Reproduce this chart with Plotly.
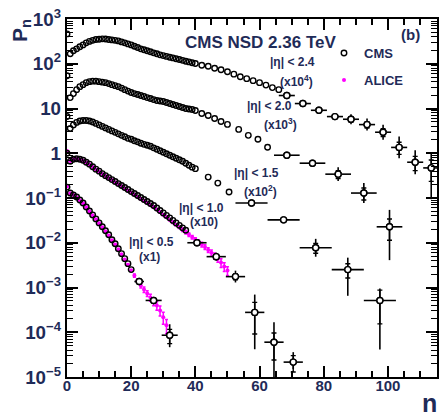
import plotly.graph_objects as go

# ---------------- data ----------------
scales = [1e4, 1e3, 1e2, 10, 1]
eta_labels = ["|η| < 2.4", "|η| < 2.0", "|η| < 1.5", "|η| < 1.0", "|η| < 0.5"]
scale_labels = ["(x10<sup>4</sup>)", "(x10<sup>3</sup>)", "(x10<sup>2</sup>)", "(x10)", "(x1)"]

# CMS finely binned points (true P_n, unscaled)
cms24_n = list(range(0, 41)) + list(range(42, 67, 2))
cms24_p = [0.0464, 0.0167, 0.0195, 0.0215, 0.0239, 0.0264, 0.0293, 0.0316, 0.0333, 0.0347,
           0.0354, 0.0360, 0.0356, 0.0348, 0.0341, 0.0333, 0.0324, 0.0308, 0.0293, 0.0278,
           0.0264, 0.0247, 0.0231, 0.0215, 0.0205, 0.0195, 0.0185, 0.0175, 0.0167, 0.0158,
           0.0152, 0.0146, 0.0140, 0.0135, 0.0129, 0.0124, 0.0119, 0.0114, 0.0110, 0.0105,
           0.0101,
           0.00927, 0.00880, 0.00794, 0.00736, 0.00664, 0.00585, 0.00514, 0.00464, 0.00419,
           0.00378, 0.00333, 0.00293, 0.00264]

cms20_n = list(range(0, 41)) + [42, 44, 46, 48, 50, 53.5, 56.5, 59.5, 62.5]
cms20_p = [0.0541, 0.0175, 0.0215, 0.0264, 0.0308, 0.0341, 0.0378, 0.0398, 0.0408, 0.0408,
           0.0398, 0.0388, 0.0378, 0.0360, 0.0341, 0.0324, 0.0308, 0.0286, 0.0264, 0.0245,
           0.0227, 0.0215, 0.0205, 0.0195, 0.0185, 0.0175, 0.0167, 0.0158, 0.0151, 0.0147,
           0.0143, 0.0136, 0.0129, 0.0123, 0.0117, 0.0111, 0.0105, 0.0100, 0.00975, 0.00950,
           0.00903,
           0.00774, 0.00699, 0.00600, 0.00514, 0.00441, 0.00341, 0.00251, 0.00205, 0.00136]

cms15_n = list(range(0, 41)) + [44, 47, 50.5]
cms15_p = [0.0664, 0.0360, 0.0430, 0.0489, 0.0527, 0.0541, 0.0541, 0.0527, 0.0501, 0.0464,
           0.0430, 0.0398, 0.0369, 0.0341, 0.0316, 0.0293, 0.0271, 0.0251, 0.0233, 0.0215,
           0.0205, 0.0190, 0.0180, 0.0167, 0.0158, 0.0151, 0.0143, 0.0132, 0.0123, 0.0114,
           0.0105, 0.00975, 0.00903, 0.00836, 0.00774, 0.00717, 0.00664, 0.00600, 0.00541, 0.00489,
           0.00453,
           0.00293, 0.00215, 0.00136]

cms10_n = list(range(0, 38))
cms10_p = [0.100, 0.0664, 0.0736, 0.0755, 0.0736, 0.0699, 0.0631, 0.0570, 0.0501, 0.0441,
           0.0398, 0.0350, 0.0316, 0.0286, 0.0258, 0.0233, 0.0210, 0.0190, 0.0171, 0.0155,
           0.0139, 0.0126, 0.0114, 0.0103, 0.00927, 0.00836, 0.00755, 0.00681, 0.00600, 0.00527,
           0.00464, 0.00408, 0.00360, 0.00316, 0.00278, 0.00245, 0.00215, 0.00190]

cms05_n = list(range(0, 21))
cms05_p = [0.175, 0.129, 0.117, 0.105, 0.0903, 0.0774, 0.0631, 0.0514, 0.0419, 0.0341,
           0.0278, 0.0227, 0.0185, 0.0151, 0.0117, 0.00950, 0.00736, 0.00570, 0.00441, 0.00341,
           0.00251]

# CMS wide bins at high n: centre, half width, P_n, relative errors (total up/down, stat)
wide24_n = [68.5, 73.5, 78.5, 83.5, 88.5, 93.5, 98.5, 103.5, 108.5, 113.5]
wide24_w = [2.5] * 10
wide24_p = [0.00195, 0.00129, 0.000912, 0.00066, 0.000575, 0.000437, 0.000295, 0.000135, 0.000063, 0.000047]
wide24_up = [0.17, 0.17, 0.17, 0.17, 0.29, 0.36, 0.47, 0.76, 0.85, 1.27]
wide24_dn = [0.14, 0.14, 0.14, 0.14, 0.23, 0.26, 0.32, 0.43, 0.46, 0.80]
wide24_st = [0.08, 0.08, 0.08, 0.08, 0.13, 0.16, 0.20, 0.30, 0.35, 0.50]

wide20_n = [68.5, 76.5, 84.5, 92.5, 100.5]
wide20_w = [4] * 5
wide20_p = [0.000903, 0.0006, 0.000341, 0.000129, 0.0000227]
wide20_up = [0.17, 0.17, 0.43, 0.67, 1.39]
wide20_dn = [0.14, 0.14, 0.30, 0.40, 0.82]
wide20_st = [0.08, 0.08, 0.20, 0.30, 0.50]

wide15_n = [57.5, 67.5, 77.5, 87.5, 97.5]
wide15_w = [5] * 5
wide15_p = [0.000776, 0.000325, 0.0000774, 0.0000251, 0.00000514]
wide15_up = [0.17, 0.17, 0.58, 0.85, 0.85]
wide15_dn = [0.14, 0.14, 0.37, 0.74, 0.92]
wide15_st = [0.08, 0.08, 0.25, 0.35, 0.70]

wide10_n = [40.5, 46.5, 52.5, 58.5, 64.5, 70.5]
wide10_w = [3] * 6
wide10_p = [0.001, 0.000489, 0.000175, 0.0000278, 0.000006, 0.00000215]
wide10_up = [0.11, 0.23, 0.36, 1.5, 1.8, 0.67]
wide10_dn = [0.10, 0.19, 0.26, 0.85, 0.87, 0.30]
wide10_st = [0.05, 0.10, 0.15, 0.67, 0.60, 0.40]

wide05_n = [22.5, 27, 32]
wide05_w = [1.5, 2.5, 2.5]
wide05_p = [0.00136, 0.000514, 0.0000858]
wide05_up = [0.11, 0.17, 0.76]
wide05_dn = [0.10, 0.14, 0.46]
wide05_st = [0.05, 0.08, 0.35]

# ALICE
alice10_n = list(range(0, 51))
alice10_p = [0.112, 0.0670, 0.0740, 0.0752, 0.0730, 0.0692, 0.0625, 0.0562, 0.0494, 0.0434,
             0.0391, 0.0343, 0.0309, 0.0279, 0.0251, 0.0226, 0.0203, 0.0183, 0.0164, 0.0148,
             0.0132, 0.0119, 0.0107, 0.00965, 0.00865, 0.00778, 0.00700, 0.00628, 0.00553, 0.00484,
             0.00425, 0.00373, 0.00328, 0.00288, 0.00252, 0.00222, 0.00195, 0.00172, 0.00152, 0.00134,
             0.00119, 0.00103, 0.000915, 0.000805, 0.000690, 0.000595, 0.000510, 0.000438, 0.000360, 0.000293,
             0.000239]
alice10_e = [0.02] * 21 + [0.04] * 10 + [0.06] * 5 + [0.09] * 5 + [0.12] * 4 + [0.16] * 3 + [0.22] * 3

alice05_n = list(range(0, 32))
alice05_p = [0.180, 0.128, 0.116, 0.104, 0.0895, 0.0765, 0.0625, 0.0508, 0.0413, 0.0336,
             0.0272, 0.0222, 0.0180, 0.0146, 0.0113, 0.00915, 0.00705, 0.00545, 0.00420, 0.00322,
             0.00240, 0.00185, 0.00143, 0.00111, 0.000903, 0.000736, 0.000600, 0.000489, 0.000398, 0.000308,
             0.000215, 0.000143]
alice05_e = [0.02] * 11 + [0.03] * 5 + [0.05] * 5 + [0.08, 0.10, 0.12, 0.14, 0.15, 0.18, 0.20, 0.22, 0.25, 0.30, 0.35]

fine_sets = [(cms24_n, cms24_p), (cms20_n, cms20_p), (cms15_n, cms15_p), (cms10_n, cms10_p), (cms05_n, cms05_p)]
wide_sets = [
    (wide24_n, wide24_w, wide24_p, wide24_up, wide24_dn, wide24_st),
    (wide20_n, wide20_w, wide20_p, wide20_up, wide20_dn, wide20_st),
    (wide15_n, wide15_w, wide15_p, wide15_up, wide15_dn, wide15_st),
    (wide10_n, wide10_w, wide10_p, wide10_up, wide10_dn, wide10_st),
    (wide05_n, wide05_w, wide05_p, wide05_up, wide05_dn, wide05_st),
]
alice_sets = [(alice10_n, alice10_p, alice10_e, 10), (alice05_n, alice05_p, alice05_e, 1)]

# ---------------- figure ----------------
W, H = 439, 416
ML, MR, MT, MB = 67, 2, 19, 39
TXT = "#1f2b58"
FONT = "Liberation Sans, Arial, sans-serif"
MAG = "#ff00ff"


def px2paper(x, y):
    return (x - ML) / (W - ML - MR), (H - MB - y) / (H - MT - MB)


fig = go.Figure()

# ALICE (drawn first, under CMS circles)
for i, (n, p, e, s) in enumerate(alice_sets):
    y = [v * s for v in p]
    fig.add_trace(go.Scatter(
        x=n, y=y, mode="markers", name="ALICE",
        showlegend=(i == 0), legend="legend2",
        marker=dict(symbol="circle", size=4, color=MAG, line=dict(width=0)),
        error_y=dict(type="data", array=[a * b for a, b in zip(y, e)], color=MAG, thickness=1.5, width=1.5),
    ))

# CMS fine bins
for i, ((n, p), s) in enumerate(zip(fine_sets, scales)):
    fig.add_trace(go.Scatter(
        x=n, y=[v * s for v in p], mode="markers", name="CMS",
        showlegend=(i == 0), legend="legend",
        marker=dict(symbol="circle-open", size=5.5, color="black", line=dict(width=1.4)),
    ))

# CMS wide bins with total (outer) and statistical (inner ticks) errors
for (n, w, p, up, dn, st), s in zip(wide_sets, scales):
    y = [v * s for v in p]
    fig.add_trace(go.Scatter(
        x=n, y=y, mode="markers", showlegend=False,
        marker=dict(symbol="circle", size=6, color="white", line=dict(width=1.4, color="black")),
        error_x=dict(type="data", array=w, color="black", thickness=1.6, width=0),
        error_y=dict(type="data", symmetric=False,
                     array=[a * b for a, b in zip(y, up)],
                     arrayminus=[a * b for a, b in zip(y, dn)],
                     color="black", thickness=1.6, width=0),
    ))
    fig.add_trace(go.Scatter(
        x=n, y=y, mode="markers", showlegend=False, hoverinfo="skip",
        marker=dict(symbol="circle", size=6, color="white", line=dict(width=1.4, color="black")),
        error_y=dict(type="data", array=[a * b for a, b in zip(y, st)], color="black", thickness=1.4, width=2.5),
    ))

# labels
ann = []


def add_text(x, y, text, size, angle=0):
    px, py = px2paper(x, y)
    ann.append(dict(x=px, y=py, xref="paper", yref="paper", text=text, showarrow=False,
                    textangle=angle, xanchor="center", yanchor="middle",
                    font=dict(family=FONT, size=size, color=TXT, weight="bold")))


add_text(261, 42, "CMS NSD 2.36 TeV", 17)
add_text(410, 34, "(b)", 15)
eta_pos = [(292, 62, 296, 81), (269, 106, 280, 124), (256, 173, 260, 191), (201, 208, 204, 222), (151, 242, 149, 257)]
for (x1, y1, x2, y2), t1, t2 in zip(eta_pos, eta_labels, scale_labels):
    add_text(x1, y1, t1, 12)
    add_text(x2, y2, t2, 12)
add_text(21, 31, "P<sub>n</sub>", 21, angle=-90)
add_text(429, 403, "n", 25)

axis_common = dict(
    showline=True, linewidth=2, linecolor="black", mirror="ticks",
    ticks="inside", tickwidth=1.5, tickcolor="black", ticklen=11,
    showgrid=False, zeroline=False, automargin=False,
    tickfont=dict(family=FONT, size=15, color=TXT, weight="bold"),
)

fig.update_xaxes(range=[0, 115.3], dtick=20, tick0=0, ticklabelstandoff=-6,
                 minor=dict(ticks="inside", ticklen=6, tickwidth=1.5, tickcolor="black", dtick=5, showgrid=False),
                 **axis_common)
fig.update_yaxes(type="log", range=[-5, 3], dtick=1, exponentformat="power",
                 minor=dict(ticks="inside", ticklen=6, tickwidth=1.2, tickcolor="black", dtick="D1", showgrid=False),
                 ticklabelstandoff=1,
                 **axis_common)

lx, ly1 = px2paper(324, 53)
_, ly2 = px2paper(324, 80)
leg_font = dict(family=FONT, size=13, color=TXT, weight="bold")
fig.update_layout(
    width=W, height=H,
    margin=dict(l=ML, r=MR, t=MT, b=MB, pad=0, autoexpand=False),
    paper_bgcolor="white", plot_bgcolor="white",
    annotations=ann,
    legend=dict(x=lx, y=ly1, xanchor="left", yanchor="middle", bgcolor="rgba(0,0,0,0)", font=leg_font,
                itemwidth=30),
    legend2=dict(x=lx, y=ly2, xanchor="left", yanchor="middle", bgcolor="rgba(0,0,0,0)", font=leg_font,
                 itemwidth=30),
)

fig.write_html("out.html", config={"displayModeBar": False},
               post_script="document.body.style.margin='0px';document.body.style.padding='0px';")
